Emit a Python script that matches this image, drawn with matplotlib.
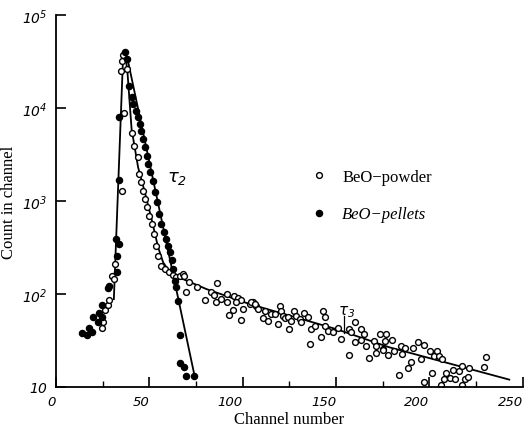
import numpy as np
import matplotlib.pyplot as plt
import matplotlib.transforms as mtransforms

plt.rcParams['mathtext.fontset'] = 'custom'
plt.rcParams['mathtext.it'] = 'DejaVu Sans:italic'
plt.rcParams['mathtext.rm'] = 'DejaVu Sans:italic'
plt.rcParams['mathtext.default'] = 'it'

# BeO pellets (filled points)
pel_ch = [13.7, 16.7, 17.6, 19.4, 19.6, 22.3, 22.8, 24.8, 24.6, 27.8, 28.5, 32.5, 32.8,
          33.7, 32.1, 33.9, 33.7, 36.9, 38.3,
          39.2, 40.5, 41.3, 42.8, 43.7, 44.9, 45.8, 46.7, 47.6, 48.5, 49.4, 50.5, 52.1,
          53.1, 54.2, 55.2, 56.5, 57.8, 58.8, 60.1, 61.0, 61.9, 62.7, 63.5, 64.5, 65.4,
          66.7, 66.7, 68.6, 69.9, 73.8]
pel_cnt = [38, 36, 43, 39, 56, 50, 63, 57, 76, 116, 123, 171, 257,
           347, 390, 1700, 8050, 40000, 34000,
           17400, 13000, 11000, 9350, 7940, 6730, 5700, 4640, 3780, 3070, 2500, 2050, 1650,
           1240, 970, 725, 566, 460, 390, 330, 281, 230, 186, 139, 118, 85,
           36, 18, 16.3, 13.2, 13.0]

# BeO powder (open points)
pow_ch = [24.6, 25.3, 26.2, 28.0, 28.3, 29.8, 31.0, 31.6, 35.5, 36.7, 34.8, 35.5, 36.0,
          38.3, 40.8, 41.9, 43.7, 44.5, 45.8, 46.7, 47.6, 48.8, 49.9, 51.2, 52.4, 53.8,
          54.7, 56.5, 58.3, 60.6, 62.7,
          64.5, 66.3, 68.1, 68.6, 71.3, 69.4, 75.8, 86.5, 82.9, 84.7, 79.7, 85.7, 88.2,
          91.6, 95.2, 97.3, 99.3, 91.6, 96.6, 100.2, 103.7, 105.5, 107.3, 108.2, 94.8,
          92.7, 98.9,
          104.7, 106.4, 111.8, 110.9, 113.5, 115.3, 117.1, 119.8, 120.7, 121.6, 118.9,
          122.5, 124.2, 124.8, 126.0, 127.4, 128.7, 130.5, 131.4, 132.8, 134.9, 135.8,
          136.7, 138.5, 142.9, 143.9, 142.1, 143.9, 145.6, 148.3, 151.0, 152.8, 157.2,
          158.1, 156.8, 159.9, 160.4, 163.5, 165.2, 163.5, 166.1, 167.5, 170.6, 171.5,
          173.3, 176.8, 175.0, 171.5, 177.7,
          176.5, 180.0, 175.4, 181.3, 184.9, 187.2, 185.4, 191.1, 194.1, 196.9, 190.2,
          188.4, 183.9, 195.6, 200.4, 202.7, 203.9, 205.3, 201.4, 197.3, 206.8, 208.9,
          208.0, 212.5, 211.1, 213.9, 216.0, 217.5, 219.3, 220.5, 217.5, 221.4, 229.4,
          230.3, 206.3]
pow_cnt = [43, 50, 68, 77, 86, 157, 145, 210, 1290, 8840, 24800, 32400, 37100,
           26200, 5340, 3870, 2950, 1950, 1590, 1290, 1050, 855, 695, 566, 442, 330,
           258, 201, 186, 171, 160,
           151, 157, 164, 155, 136, 104, 118, 131, 104, 97.5, 85.5, 82.6, 88.3,
           100, 94.4, 90.6, 85.5, 82.6, 81.4, 69, 78, 81.4, 74.8, 69, 67.3,
           59.4, 52.5,
           81.4, 78, 66.1, 54.8, 51.6, 61, 61, 74.8, 66.1, 58.4, 47.6,
           54.8, 56.2, 42, 51.6, 65.2, 58.4, 53.8, 49.6, 62, 56.2, 29,
           42, 45.6, 65.2, 56.2, 34.2, 45.6, 40.3, 38.7, 42.8, 32.8, 42,
           38.7, 22.1, 30.3, 49.6, 42, 37.2, 32.3, 27.8, 20.4, 31.5, 27.8,
           37.2, 37.2, 25.6, 23.2, 22.1,
           31, 32, 25.2, 24.5, 27.4, 26, 22.6, 26, 30.3, 28.3, 18.7,
           15.9, 13.5, 20, 24.5, 21.7, 24.5, 21.7, 14.1, 11.4, 20, 14.1,
           12.2, 15.2, 12.4, 12.2, 14.8, 16.9, 12.2, 12.7, 10.5, 15.9, 16.3,
           21.2, 10.5]

# fitted curves
rise_ch = [31.0, 36.0, 37.0]
rise_cnt = [88, 38000, 40000]
pelfit_ch = [37.0, 38.3, 74.3]
pelfit_cnt = [40000, 34000, 13]
powfit_ch = [37.0, 38.3, 40.5, 44.0, 47.6, 51.2, 54.7, 57.4, 61.0, 64.5, 80.6, 103.7,
             150.0, 178.6, 242.8]
powfit_cnt = [40000, 24200, 5940, 2300, 1240, 640, 318, 219, 171, 155, 113, 78,
              42, 26.7, 12.0]

fig = plt.figure(figsize=(5.28, 4.31), dpi=100)
ax = fig.add_axes([0.106, 0.0998, 0.884, 0.863])

ax.plot(rise_ch, rise_cnt, color='black', lw=1.3)
ax.plot(pelfit_ch, pelfit_cnt, color='black', lw=1.3)
ax.plot(powfit_ch, powfit_cnt, color='black', lw=1.3)

ax.plot(pow_ch, pow_cnt, 'o', mfc='white', mec='black', mew=1.0, ms=4.2, label='BeO\u2212powder')
ax.plot(pel_ch, pel_cnt, 'o', color='black', ms=4.4, label='BeO\u2212pellets')

ax.set_yscale('log')
ax.set_xlim(0, 250)
ax.set_ylim(10, 1e5)

for s in ['top', 'right']:
    ax.spines[s].set_visible(False)
ax.spines['left'].set_linewidth(1.3)
ax.spines['bottom'].set_linewidth(1.3)

ax.set_xticks([0, 50, 100, 150, 200, 250])
ax.set_xticklabels(['0', '50', '100', '150', '200', '250'], fontstyle='italic',
                   fontfamily='DejaVu Sans', fontsize=9.5, ha='right')
shift = mtransforms.ScaledTranslation(3 / 100, 0, fig.dpi_scale_trans)
for lab in ax.get_xticklabels():
    lab.set_transform(lab.get_transform() + shift)
ax.set_xticks([25, 75, 125, 175, 225], minor=True)
ax.set_yticks([10, 1e2, 1e3, 1e4, 1e5])
ax.set_yticklabels([r'$10$', r'$10^{2}$', r'$10^{3}$', r'$10^{4}$', r'$10^{5}$'], fontsize=10)
ax.yaxis.set_minor_locator(plt.NullLocator())
ax.tick_params(axis='both', which='major', direction='in', length=7, width=1.2, pad=6)
ax.tick_params(axis='x', which='minor', direction='in', length=4, width=1.0)

ax.set_xlabel('Channel number', family='Liberation Serif', fontsize=12, labelpad=2)
ax.set_ylabel('Count in channel', family='Liberation Serif', fontsize=12, labelpad=4)

ax.text(59.4, 1800, r'$\tau_2$', fontsize=13, ha='left', va='center')
ax.text(155.6, 66, r'$\tau_3$', fontsize=11, ha='center', va='center')
ax.plot([154.5, 154.5], [58, 38], color='black', lw=0.9)

leg = ax.legend(loc='upper left', bbox_to_anchor=(0.513, 0.627), frameon=False,
                handlelength=1.0, handletextpad=0.9, labelspacing=1.3,
                prop={'family': 'Liberation Serif', 'size': 12})
leg.get_texts()[1].set_fontstyle('italic')

fig.savefig('out.png', dpi=100)
